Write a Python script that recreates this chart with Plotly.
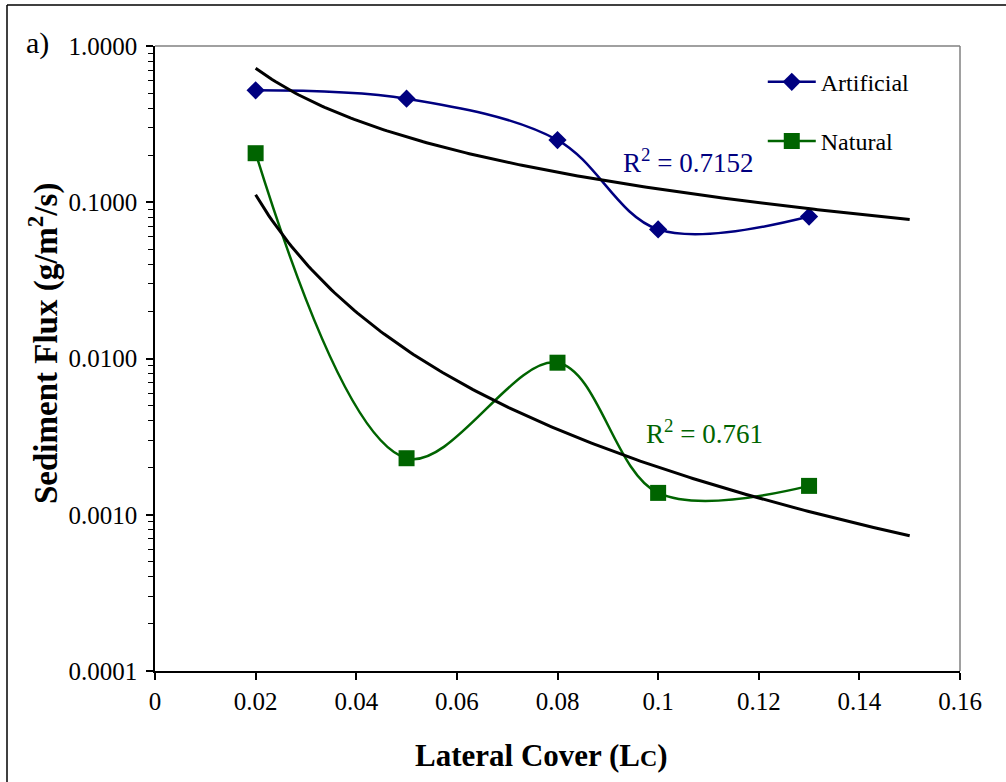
import numpy as np
import plotly.graph_objects as go

# ---- data ----
lateral_cover = [0.02, 0.05, 0.08, 0.10, 0.13]
artificial = [0.52, 0.46, 0.25, 0.067, 0.081]
natural = [0.206, 0.0023, 0.0094, 0.00138, 0.00153]
x_ticks = [0, 0.02, 0.04, 0.06, 0.08, 0.10, 0.12, 0.14, 0.16]
x_ticktext = ["0", "0.02", "0.04", "0.06", "0.08", "0.1", "0.12", "0.14", "0.16"]
y_ticks = [0.0001, 0.001, 0.01, 0.1, 1.0]
y_ticktext = ["0.0001", "0.0010", "0.0100", "0.1000", "1.0000"]
r2_artificial = "R<sup>2</sup> = 0.7152"
r2_natural = "R<sup>2</sup> = 0.761"
trend_x_end = 0.15

FONT = "Liberation Serif, Times New Roman, serif"
BLUE = "#000080"
GREEN = "#006400"

fig = go.Figure()

fig.add_trace(go.Scatter(
    x=lateral_cover, y=artificial, name="Artificial", mode="lines+markers",
    line=dict(color=BLUE, width=2.5, shape="spline", smoothing=1.0),
    marker=dict(symbol="diamond", size=14, color=BLUE),
    legendgroup="a"))
fig.add_trace(go.Scatter(
    x=lateral_cover, y=natural, name="Natural", mode="lines+markers",
    line=dict(color=GREEN, width=2.5, shape="spline", smoothing=1.0),
    marker=dict(symbol="square", size=16, color=GREEN),
    legendgroup="n"))

# power-law trendlines fitted to the data (as Excel does)
xt = np.linspace(lateral_cover[0], trend_x_end, 200)
for ys in (artificial, natural):
    b, a = np.polyfit(np.log(lateral_cover), np.log(ys), 1)
    fig.add_trace(go.Scatter(x=xt, y=np.exp(a) * xt ** b, mode="lines",
                             line=dict(color="black", width=3),
                             showlegend=False, hoverinfo="skip"))

minor_vals = [m * 10.0 ** e for e in range(-4, 0) for m in range(2, 10)]

fig.update_layout(
    width=1006, height=782,
    margin=dict(l=155, r=46, t=46, b=111),
    paper_bgcolor="white", plot_bgcolor="white",
    font=dict(family=FONT, color="black", size=25),
    showlegend=True,
    legend=dict(x=0.755, y=0.978, xanchor="left", yanchor="top",
                bgcolor="rgba(0,0,0,0)", font=dict(size=24, family=FONT),
                traceorder="grouped", tracegroupgap=25, itemwidth=48),
    xaxis=dict(range=[0, 0.16], tickvals=x_ticks, ticktext=x_ticktext,
               showline=True, linecolor="black", linewidth=1.5,
               ticks="outside", ticklen=7, tickcolor="black", tickwidth=1.5,
               showgrid=False, zeroline=False, ticklabelstandoff=0,
               tickfont=dict(size=25, family=FONT)),
    yaxis=dict(type="log", range=[-4, 0], tickvals=y_ticks, ticktext=y_ticktext,
               showline=True, linecolor="black", linewidth=1.5,
               ticks="outside", ticklen=7, tickcolor="black", tickwidth=1.5,
               minor=dict(tickvals=minor_vals, ticks="outside", ticklen=5,
                          tickcolor="black", tickwidth=1, showgrid=False),
               showgrid=False, zeroline=False, ticklabelstandoff=4,
               tickfont=dict(size=25, family=FONT)),
)

# plot-area border (top and right in gray)
fig.add_shape(type="line", xref="paper", yref="paper", x0=0, x1=1, y0=1, y1=1,
              line=dict(color="#808080", width=1.5))
fig.add_shape(type="line", xref="paper", yref="paper", x0=1, x1=1, y0=0, y1=1,
              line=dict(color="#808080", width=1.5))
# outer frame (left and top visible)
fig.add_shape(type="line", xref="paper", yref="paper",
              x0=(7 - 155) / 805, x1=(7 - 155) / 805, y0=-0.2, y1=1 + 41 / 625,
              line=dict(color="black", width=1.5))
fig.add_shape(type="line", xref="paper", yref="paper",
              x0=(7 - 155) / 805, x1=1.07, y0=1 + 41 / 625, y1=1 + 41 / 625,
              line=dict(color="black", width=1.5))

fig.add_annotation(text=r2_artificial, xref="paper", yref="paper",
                   x=(621 - 155) / 805, y=1 - (161 - 46) / 625,
                   xanchor="left", yanchor="middle", showarrow=False,
                   font=dict(size=27, color=BLUE, family=FONT))
fig.add_annotation(text=r2_natural, xref="paper", yref="paper",
                   x=(644 - 155) / 805, y=1 - (432 - 46) / 625,
                   xanchor="left", yanchor="middle", showarrow=False,
                   font=dict(size=27, color=GREEN, family=FONT))
fig.add_annotation(text="a)", xref="paper", yref="paper",
                   x=(38 - 155) / 805, y=1 - (43 - 46) / 625,
                   xanchor="center", yanchor="middle", showarrow=False,
                   font=dict(size=30, family=FONT))
fig.add_annotation(text="<b>Lateral Cover (L<span style='font-size:24px'>C</span>)</b>",
                   xref="paper", yref="paper",
                   x=(541 - 155) / 805, y=1 - (755 - 46) / 625,
                   xanchor="center", yanchor="middle", showarrow=False,
                   font=dict(size=31, family=FONT))
fig.add_annotation(text="<b>Sediment Flux (g/m<sup>2</sup>/s)</b>",
                   xref="paper", yref="paper",
                   x=(43 - 155) / 805, y=1 - (344 - 46) / 625,
                   xanchor="center", yanchor="middle", showarrow=False, textangle=-90,
                   font=dict(size=33, family=FONT))

fig.write_html("out.html", config={"displayModeBar": False},
               post_script="document.body.style.margin='0';"
                           "document.documentElement.style.overflow='hidden';")
